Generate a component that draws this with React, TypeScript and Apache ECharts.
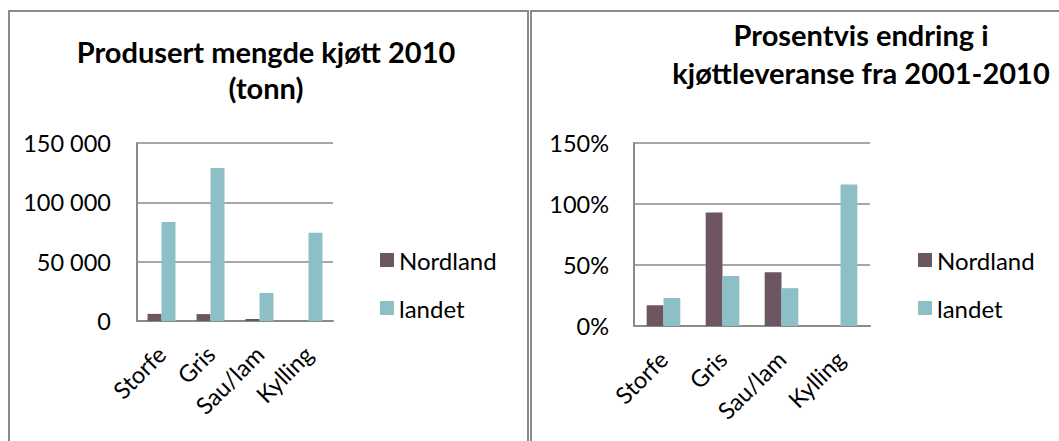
import React, { useEffect, useRef } from 'react';
import * as echarts from 'echarts';

const categories = ['Storfe', 'Gris', 'Sau/lam', 'Kylling'];
const seriesNames = ['Nordland', 'landet'];
const tonnNordland = [6000, 5800, 1700, null];
const tonnLandet = [83400, 128900, 23600, 74400];
const pctNordland = [17, 93, 44, null];
const pctLandet = [23, 41, 31, 116];
const tonnMax = 150000;
const tonnStep = 50000;
const pctMax = 150;
const pctStep = 50;
const titleLeft = 'Produsert mengde kjøtt 2010\n(tonn)';
const titleRight = 'Prosentvis endring i\nkjøttleveranse fra 2001-2010';

const FONT = 'Lato, "Open Sans", sans-serif';
const C_NORD = '#6d5661';
const C_LAND = '#8cc0c6';
const C_GRID = '#8a8a8a';
const FS = 23.5;

function fmtThousands(v: number) {
  return String(v).replace(/\B(?=(\d{3})+(?!\d))/g, ' ');
}

export default function App() {
  const ref = useRef<HTMLDivElement>(null);
  useEffect(() => {
    if (!ref.current) return;
    const chart = echarts.init(ref.current, undefined, { renderer: 'svg' });
    const axisLabel = { color: '#000', fontFamily: FONT, fontSize: FS };
    const xAxisCommon = {
      type: 'category',
      data: categories,
      axisLine: { show: true, lineStyle: { color: C_GRID, width: 2 } },
      axisTick: { show: false },
      axisLabel: { ...axisLabel, rotate: 45, interval: 0, margin: 29 },
    };
    const yAxisCommon = {
      type: 'value',
      min: 0,
      axisLine: { show: true, lineStyle: { color: C_GRID, width: 2 } },
      axisTick: { show: false },
      splitLine: { show: true, lineStyle: { color: C_GRID, width: 1.5 } },
    };
    const legendCommon = {
      orient: 'vertical',
      data: seriesNames,
      icon: 'rect',
      itemWidth: 14,
      itemHeight: 14,
      itemGap: 24,
      top: 243,
      textStyle: { color: '#000', fontFamily: FONT, fontSize: 24, lineHeight: 24 },
    };
    chart.setOption({
      animation: false,
      color: [C_NORD, C_LAND],
      grid: [
        { left: 137, top: 143, width: 196, height: 178 },
        { left: 634, top: 143, width: 236, height: 183 },
      ],
      legend: [
        { ...legendCommon, left: 375 },
        { ...legendCommon, left: 913 },
      ],
      xAxis: [
        { ...xAxisCommon, gridIndex: 0 },
        { ...xAxisCommon, gridIndex: 1 },
      ],
      yAxis: [
        {
          ...yAxisCommon,
          gridIndex: 0,
          max: tonnMax,
          interval: tonnStep,
          axisLabel: { ...axisLabel, margin: 26, formatter: (v: number) => fmtThousands(v) },
        },
        {
          ...yAxisCommon,
          gridIndex: 1,
          max: pctMax,
          interval: pctStep,
          axisLabel: { ...axisLabel, margin: 25, formatter: (v: number) => v + '%' },
        },
      ],
      series: [
        { name: seriesNames[0], type: 'bar', xAxisIndex: 0, yAxisIndex: 0, data: tonnNordland, barGap: '0%', barCategoryGap: '43%', itemStyle: { color: C_NORD } },
        { name: seriesNames[1], type: 'bar', xAxisIndex: 0, yAxisIndex: 0, data: tonnLandet, barGap: '0%', barCategoryGap: '43%', itemStyle: { color: C_LAND } },
        { name: seriesNames[0], type: 'bar', xAxisIndex: 1, yAxisIndex: 1, data: pctNordland, barGap: '0%', barCategoryGap: '43%', itemStyle: { color: C_NORD } },
        { name: seriesNames[1], type: 'bar', xAxisIndex: 1, yAxisIndex: 1, data: pctLandet, barGap: '0%', barCategoryGap: '43%', itemStyle: { color: C_LAND } },
      ],
      graphic: [
        { type: 'rect', shape: { x: 9, y: 11, width: 519, height: 460 }, style: { fill: 'none', stroke: C_GRID, lineWidth: 2 }, silent: true, z: -1 },
        { type: 'rect', shape: { x: 531, y: 11, width: 560, height: 460 }, style: { fill: 'none', stroke: C_GRID, lineWidth: 2 }, silent: true, z: -1 },
        { type: 'text', x: 266, y: 33.5, style: { text: titleLeft, align: 'center', verticalAlign: 'top', lineHeight: 36, font: `bold 29px ${FONT}`, fill: '#000' } },
        { type: 'text', x: 861, y: 16, style: { text: titleRight, align: 'center', verticalAlign: 'top', lineHeight: 37.5, font: `bold 29px ${FONT}`, fill: '#000' } },
      ],
    });
    return () => chart.dispose();
  }, []);
  return <div ref={ref} style={{ position: 'fixed', left: 0, top: 0, width: 1059, height: 441, background: '#fff' }} />;
}
